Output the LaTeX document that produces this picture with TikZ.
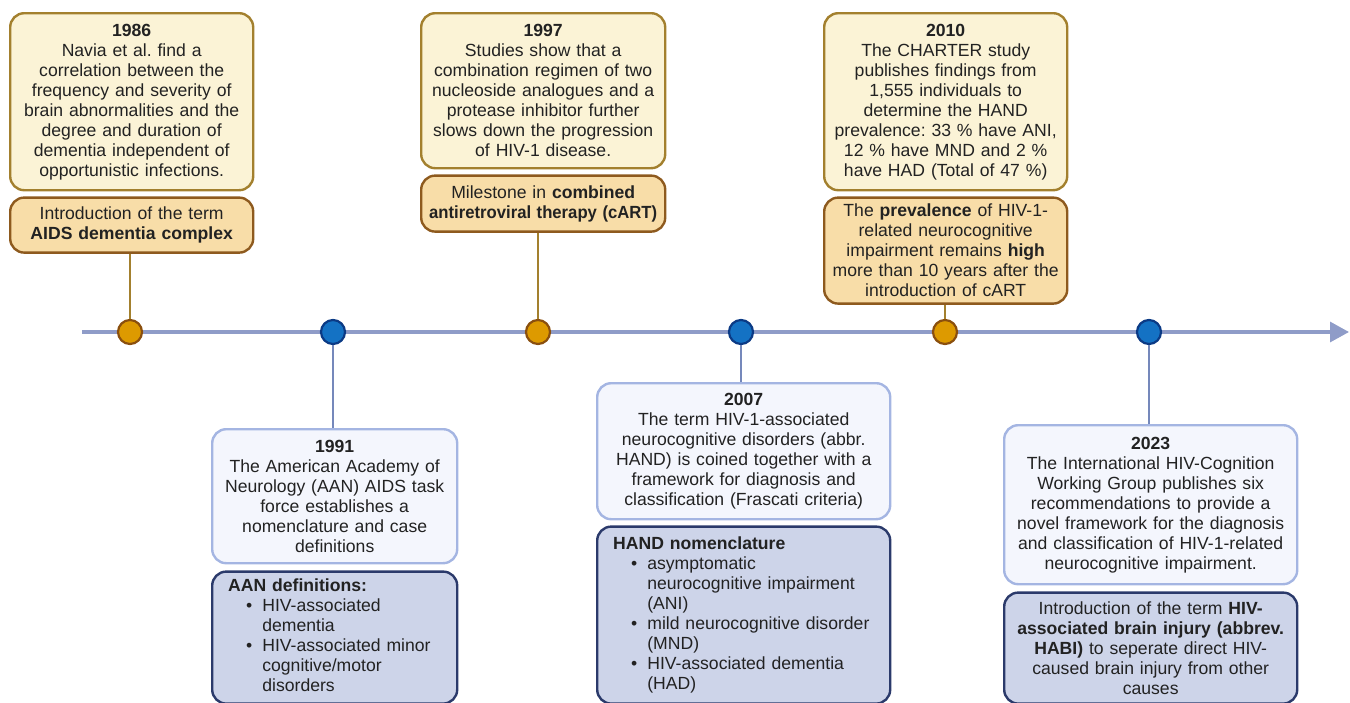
\documentclass[tikz,border=0pt]{standalone}
\usepackage{fontspec}
\setmainfont{Liberation Sans}
\usepackage{graphicx}
\usepackage{tikz}
\usetikzlibrary{arrows.meta, positioning}
\frenchspacing
\definecolor{textgrey}{HTML}{222222}
\definecolor{creamfill}{HTML}{FBF3D6}
\definecolor{creamdraw}{HTML}{A3802E}
\definecolor{peachfill}{HTML}{F8DDA8}
\definecolor{peachdraw}{HTML}{8E5A1E}
\definecolor{palefill}{HTML}{F4F6FD}
\definecolor{paledraw}{HTML}{A4B5E2}
\definecolor{slatefill}{HTML}{CDD4E9}
\definecolor{slatedraw}{HTML}{2B3A6B}
\definecolor{axisblue}{HTML}{8F9CC8}
\definecolor{amber}{HTML}{DD9A00}
\definecolor{amberdark}{HTML}{8A4F0E}
\definecolor{royal}{HTML}{1472C4}
\definecolor{royaldark}{HTML}{0B3A85}
\tikzstyle{block} = [rectangle, rounded corners=14pt, line width=2.4pt, align=center, inner sep=3pt, text=textgrey, font=\fontsize{17.6}{20}\selectfont]
\tikzstyle{event} = [draw=creamdraw, fill=creamfill, block]
\tikzstyle{note} = [draw=peachdraw, fill=peachfill, block]
\tikzstyle{study} = [draw=paledraw, fill=palefill, block]
\tikzstyle{terms} = [draw=slatedraw, fill=slatefill, block]
\tikzstyle{olddot} = [circle, draw=amberdark, fill=amber, line width=2.2pt, minimum size=24pt, inner sep=0pt]
\tikzstyle{newdot} = [circle, draw=royaldark, fill=royal, line width=2.2pt, minimum size=24pt, inner sep=0pt]
\tikzstyle{axis} = [-{Triangle[length=19pt, width=20pt]}, line width=3.2pt, draw=axisblue]
\tikzstyle{oldstem} = [line width=1.6pt, draw=creamdraw]
\tikzstyle{newstem} = [line width=1.6pt, draw=axisblue!80!royaldark]

\begin{document}
\begin{tikzpicture}[x=1pt, y=-1pt, node distance=5pt]
    \useasboundingbox (0,0) rectangle (1350,702);

    % Time axis.
    \coordinate (axisL) at (82,332);
    \coordinate (axisR) at (1349,332);
    \draw [axis] (axisL) -- (axisR);

    % Upper row.
    \node (event1986) [event, anchor=north west, minimum width=243pt, minimum height=177pt, text width=237pt] at (9,12)
        {\textbf{1986}\\Navia et al. find a\\correlation between the\\frequency and severity of\\brain abnormalities and the\\degree and duration of\\dementia independent of\\opportunistic infections.};
    \node (note1986) [note, below=of event1986, minimum width=243pt, minimum height=55pt, text width=237pt]
        {Introduction of the term\\\textbf{AIDS dementia complex}};

    \node (event1997) [event, anchor=north west, minimum width=244pt, minimum height=155pt, text width=238pt] at (420,12)
        {\textbf{1997}\\Studies show that a\\combination regimen of two\\nucleoside analogues and a\\protease inhibitor further\\slows down the progression\\of HIV-1 disease.};
    \node (note1997) [note, below=of event1997, minimum width=244pt, minimum height=56pt, text width=238pt]
        {Milestone in \textbf{combined}\\\resizebox{228pt}{\height}{\textbf{antiretroviral therapy (cART)}}};

    \node (event2010) [event, anchor=north west, minimum width=243pt, minimum height=177pt, text width=237pt] at (823,12)
        {\textbf{2010}\\The CHARTER study\\publishes findings from\\1,555 individuals to\\determine the HAND\\prevalence: 33 \% have ANI,\\12 \% have MND and 2 \%\\have HAD (Total of 47 \%)};
    \node (note2010) [note, below=of event2010, minimum width=243pt, minimum height=106pt, text width=237pt]
        {The \textbf{prevalence} of HIV-1-\\related neurocognitive\\impairment remains \textbf{high}\\more than 10 years after the\\introduction of cART};

    % Lower row.
    \node (study1991) [study, anchor=north west, minimum width=245pt, minimum height=134pt, text width=239pt] at (211,428)
        {\textbf{1991}\\The American Academy of\\Neurology (AAN) AIDS task\\force establishes a\\nomenclature and case\\definitions};
    \node (terms1991) [terms, below=6pt of study1991, minimum width=245pt, minimum height=132pt, text width=213pt, inner xsep=16pt, align=left]
        {\begin{tabular}{@{}c@{\hspace{10pt}}l@{}}
            \multicolumn{2}{@{}l}{\textbf{AAN definitions:}}\\
            \hspace*{18pt}\textbullet & HIV-associated\\
             & dementia\\
            \hspace*{18pt}\textbullet & HIV-associated minor\\
             & cognitive/motor\\
             & disorders
        \end{tabular}};

    \node (study2007) [study, anchor=north west, minimum width=293pt, minimum height=136pt, text width=287pt] at (596,382)
        {\textbf{2007}\\The term HIV-1-associated\\neurocognitive disorders (abbr.\\HAND) is coined together with a\\framework for diagnosis and\\classification (Frascati criteria)};
    \node (terms2007) [terms, below=5pt of study2007, minimum width=293pt, minimum height=177pt, text width=261pt, inner xsep=16pt, align=left]
        {\begin{tabular}{@{}c@{\hspace{10pt}}l@{}}
            \multicolumn{2}{@{}l}{\textbf{HAND nomenclature}}\\
            \hspace*{18pt}\textbullet & asymptomatic\\
             & neurocognitive impairment\\
             & (ANI)\\
            \hspace*{18pt}\textbullet & mild neurocognitive disorder\\
             & (MND)\\
            \hspace*{18pt}\textbullet & HIV-associated dementia\\
             & (HAD)
        \end{tabular}};

    \node (study2023) [study, anchor=north west, minimum width=293pt, minimum height=159pt, text width=287pt] at (1003,424)
        {\textbf{2023}\\The International HIV-Cognition\\Working Group publishes six\\recommendations to provide a\\novel framework for the diagnosis\\and classification of HIV-1-related\\neurocognitive impairment.};
    \node (terms2023) [terms, below=6pt of study2023, minimum width=293pt, minimum height=111pt, text width=287pt]
        {Introduction of the term \textbf{HIV-}\\\textbf{associated brain injury (abbrev.}\\\textbf{HABI)} to seperate direct HIV-\\caused brain injury from other\\causes};

    % Dots on the axis.
    \foreach\y/\x in {1986/130, 1997/538, 2010/945} {
        \node (dot\y) [olddot] at (\x,332) {};
        \draw [oldstem] (dot\y.north) -- (dot\y.north |- note\y.south);
    }
    \foreach\y/\x in {1991/333, 2007/741, 2023/1149} {
        \node (dot\y) [newdot] at (\x,332) {};
        \draw [newstem] (dot\y.south) -- (dot\y.south |- study\y.north);
    }
\end{tikzpicture}
\end{document}
